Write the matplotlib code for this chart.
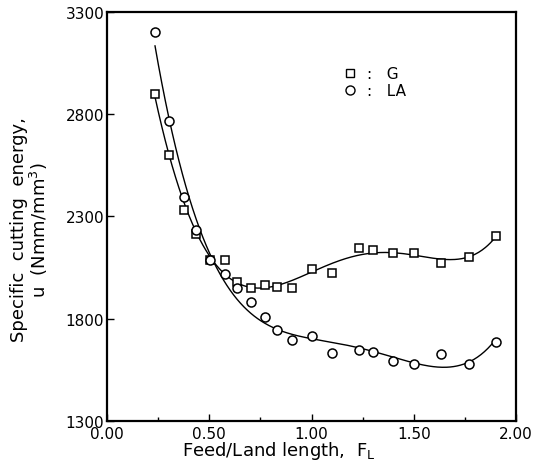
import numpy as np
import matplotlib
matplotlib.use("Agg")
import matplotlib.pyplot as plt
from matplotlib.ticker import MultipleLocator, FormatStrFormatter

plt.rcParams['font.family'] = ['DejaVu Sans']

# feed / land length ratio
fl = [0.235, 0.305, 0.375, 0.435, 0.505, 0.575, 0.635, 0.705, 0.77, 0.83,
      0.905, 1.00, 1.10, 1.23, 1.30, 1.40, 1.50, 1.63, 1.77, 1.90]
# specific cutting energy, G wheel
u_g = [2900, 2600, 2330, 2215, 2088, 2088, 1980, 1950, 1965, 1955,
       1950, 2043, 2024, 2146, 2136, 2121, 2121, 2073, 2102, 2205]
# specific cutting energy, LA wheel
u_la = [3200, 2767, 2395, 2234, 2088, 2019, 1950, 1882, 1809, 1745,
        1696, 1716, 1632, 1647, 1637, 1593, 1579, 1628, 1579, 1686]
yticks = [1300, 1800, 2300, 2800, 3300]

fig = plt.figure(figsize=(5.4, 4.64), dpi=100)
ax = fig.add_axes([0.198, 0.0905, 0.758, 0.8815])

# fitted curves (polynomial regression of each series)
xf = np.linspace(min(fl), max(fl), 300)
for u, deg in ((u_g, 5), (u_la, 4)):
    c = np.polyfit(fl, u, deg)
    ax.plot(xf, np.polyval(c, xf), color='black', lw=1.0)

ax.plot(fl, u_g, ls='none', marker='s', ms=6, mfc='white', mec='black', mew=1.1)
ax.plot(fl, u_la, ls='none', marker='o', ms=6.5, mfc='white', mec='black', mew=1.1)

# legend drawn as in the original
ax.plot([1.19], [3000], marker='s', ms=6, mfc='white', mec='black', mew=1.0)
ax.plot([1.19], [2918], marker='o', ms=6.5, mfc='white', mec='black', mew=1.0)
ax.text(1.27, 3000, ':   G', fontsize=11, va='center')
ax.text(1.27, 2918, ':   LA', fontsize=11, va='center')

ax.set_xlim(0, 2.0)
ax.set_ylim(1300, 3300)
ax.xaxis.set_major_locator(MultipleLocator(0.5))
ax.xaxis.set_minor_locator(MultipleLocator(0.25))
ax.set_yticks(yticks)
ax.xaxis.set_major_formatter(FormatStrFormatter('%.2f'))
ax.tick_params(which='both', direction='in', labelsize=11)
ax.tick_params(which='major', length=5, width=1)
ax.tick_params(which='minor', length=3, width=1)
ax.tick_params(axis='y', pad=2)
for s in ax.spines.values():
    s.set_linewidth(1.6)

ax.set_xlabel('Feed/Land length,  $\\mathregular{F_L}$', fontsize=13)
ax.xaxis.set_label_coords(0.42, -0.045)
ax.set_ylabel('Specific  cutting  energy,\nu  (Nmm/mm$^3$)', fontsize=13,
              linespacing=1.0)
ax.yaxis.set_label_coords(-0.14, 0.47)

fig.savefig('out.png', dpi=100)
